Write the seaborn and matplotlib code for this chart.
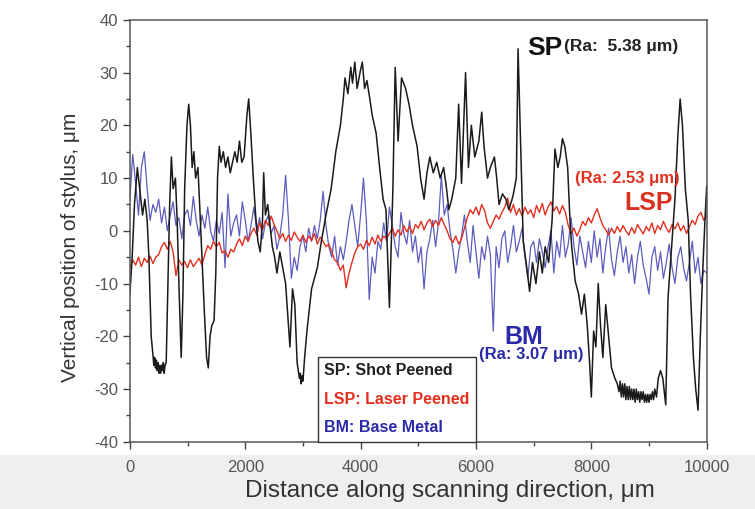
import numpy as np
import pandas as pd
import seaborn as sns
import matplotlib.pyplot as plt
from matplotlib.patches import Rectangle
from matplotlib.ticker import MultipleLocator

sns.set_theme(style='ticks')
plt.rcParams['font.family'] = ['Liberation Sans', 'DejaVu Sans']
plt.rcParams['axes.unicode_minus'] = False

# SP profile (shot peened): (distance, height) breakpoints
sp_pts = [(0, -12), (40, -5), (80, 5), (130, 12), (170, 8), (220, 3), (260, 6), (300, 2),
          (330, -5), (370, -20), (400, -23.5), (415, -25.5), (430, -24), (445, -26),
          (460, -24.5), (475, -26.5), (490, -25), (505, -27), (520, -25.5), (535, -27),
          (550, -25.5), (565, -26.5), (580, -25), (595, -27), (610, -25.5), (630, -25),
          (660, -10), (690, 5), (720, 14), (750, 8), (790, 10), (820, 2), (850, -10),
          (890, -24), (920, -12), (950, 8), (990, 20), (1020, 24), (1050, 20), (1080, 12),
          (1110, 15), (1140, 10), (1180, 12), (1210, 5), (1250, -5), (1290, -15), (1330, -24),
          (1360, -26), (1390, -20), (1420, -18), (1460, -17), (1490, -8), (1520, 10), (1550, 16),
          (1580, 13), (1620, 15), (1660, 12), (1700, 14), (1740, 11), (1780, 13), (1820, 15),
          (1860, 13), (1900, 17), (1940, 13), (1980, 14), (2030, 22), (2060, 25), (2100, 18),
          (2140, 10), (2180, 3), (2220, -2), (2260, -4), (2300, 2), (2320, 11), (2350, 3),
          (2390, 5), (2430, 1), (2470, -3), (2510, -5), (2550, -8), (2600, -4), (2650, -7),
          (2700, -10), (2775, -22), (2820, -11), (2860, -14), (2900, -25), (2940, -28),
          (2955, -27), (2970, -29), (2985, -27.5), (3000, -28.5), (3030, -24), (3070, -19),
          (3110, -15), (3150, -11), (3200, -9), (3250, -7), (3320, -2), (3400, 3), (3490, 8),
          (3570, 15), (3650, 20), (3700, 25), (3730, 29), (3780, 26), (3830, 31), (3860, 28),
          (3900, 32), (3940, 27), (3990, 30), (4030, 32), (4070, 27), (4110, 28.5), (4160, 25),
          (4200, 22), (4270, 18.5), (4330, 12), (4390, 6), (4440, 4), (4500, -14.5), (4560, 8),
          (4600, 31), (4650, 17), (4710, 29), (4780, 27), (4840, 24), (4900, 20), (4980, 16),
          (5040, 10), (5100, 6), (5150, 11), (5200, 14), (5260, 11), (5320, 13), (5380, 10),
          (5440, 12), (5490, 8), (5530, 4), (5580, 6), (5650, 10), (5700, 24), (5750, 9),
          (5820, 30), (5870, 12), (5920, 20), (5980, 14), (6050, 17), (6100, 22.5), (6140, 16),
          (6200, 10), (6250, 12), (6320, 14), (6360, 10), (6400, 5), (6460, 7), (6520, 6),
          (6570, 4), (6640, 6.5), (6700, 10), (6730, 34.5), (6770, 18), (6820, -2), (6870, -6),
          (6930, -11.5), (6980, -6), (7040, -10), (7100, -4), (7150, -8), (7200, -3),
          (7260, -6), (7320, 2), (7370, 15.5), (7420, 12), (7460, 14), (7500, 17.5),
          (7540, 16), (7590, 12), (7630, 2), (7660, -3), (7720, -9.5), (7780, -12),
          (7830, -15.8), (7880, -12), (7930, -18), (7970, -25), (8000, -31.5), (8040, -19),
          (8080, -22), (8120, -10), (8160, -18), (8200, -24), (8250, -14), (8300, -20),
          (8350, -26), (8410, -28), (8450, -29), (8480, -30.5), (8500, -28.5), (8520, -31.5),
          (8540, -29), (8560, -31.5), (8580, -29), (8600, -32), (8620, -29.5), (8640, -32),
          (8660, -29.5), (8680, -32), (8700, -30), (8720, -32), (8740, -30), (8760, -32.5),
          (8780, -30), (8800, -32), (8820, -30.5), (8840, -32.5), (8860, -30.5), (8880, -32),
          (8900, -30.5), (8920, -32.5), (8940, -31), (8960, -32.5), (8980, -31), (9000, -32.5),
          (9020, -31), (9040, -32), (9060, -30.5), (9080, -32), (9100, -30), (9130, -31.5),
          (9160, -28), (9200, -26.5), (9240, -28), (9290, -33), (9330, -12.7), (9380, -5),
          (9450, 6), (9500, 18), (9540, 25), (9580, 20), (9630, 8), (9680, 2), (9720, -12),
          (9770, -24), (9810, -30), (9850, -34), (9890, -20), (9930, -8), (9970, 2),
          (10000, 8.5)]

# LSP profile (laser peened), sampled every 50 um
lsp_y = [-7, -5.5, -6.5, -5, -6.8, -5.2, -6, -4.8, -6.2, -5,
         -4.5, -3, -2.2, -3.5, -2, -4, -8.5, -5.5, -6.5, -5.8,
         -7, -5.5, -6.8, -6, -5.2, -6.5, -4.5, -2.8, -3.5, -2,
         -3, -2.2, -4.2, -3.8, -5, -3.5, -4, -2.5, -1.5, -2.8,
         -1, -2, -0.5, 0.5, -0.8, 1.5, 0.2, 2, 1, 2.8,
         1.2, 0, -1.5, -0.5, -2, -0.8, -1.8, -0.2, -1.2, -2,
         -0.8, -2.2, -1, -1.8, -0.5, -2.5, -1.2, -2, -3, -2.5,
         -4, -5.5, -6, -7.5, -6.5, -10.8, -8, -6, -4.2, -3,
         -2.5, -3.5, -1.8, -2.8, -1.2, -2.5, -0.8, -2, -1, -1.5,
         -0.5, 0.5, -1, 0.2, -0.8, 1, -0.2, 0.8, -0.5, 1.2,
         0.5, 1.8, 0.2, 1.5, 2.2, 0.8, 2, 1, 2.5, 1.2,
         0, -1.5, -2.2, -1, -2.5, -1.5, 0.5, 2.5, 4, 3.2,
         4.5, 3, 5, 3.8, 1.5, 0.5, 1.8, 3, 2.2, 3.5,
         4.5, 6.2, 3.5, 5, 3, 4.2, 2.8, 4.5, 3.2, 4,
         2.5, 4.8, 3.5, 5.2, 3, 4.5, 5.5, 3.8, 4.6, 3.2,
         4.8, 3.5, 1, -0.5, 0.5, -1, 0.2, 1.8, 1, 2.5,
         1.5, 3, 4.2, 2.5, 1, 0.2, -0.8, 0.5, -0.5, 0.8,
         -0.2, 1, 0, -0.8, 0.6, -0.5, 1.2, 0.3, -0.6, 0.8,
         0, 1.5, -0.5, 1, 0.2, 1.8, 0.5, -0.3, 1.2, 0.4,
         1.5, 0, 1, -0.5, 0.8, 2, 1.2, 2.8, 3.5, 2,
         3]

# BM profile (base metal), sampled every 50 um
bm_y = [6, 14.5, 9, 3, 12, 15, 8, 2, 5, 3.5,
        6, 1.5, 4.5, 0, 3, 5.5, 1, 2.5, -1.5, 3,
        4, 1, 6.5, 2, -1, 3, 0.5, 4.5, 0, -2,
        2, -0.5, 3.5, -7, 7, -1, 1.5, 3, -1, 5.5,
        2, -2, 1, 4.5, 0, 2.5, -1.5, 1.5, 3, -0.5,
        1, -3.5, -1, 3, 10.5, 2, -9, -5, -7.5, -3,
        -1, -4, 0.5, -2, 1, -1.5, 2, 7.5, 1, -3,
        -5, -1, -6.5, -3, -5.5, -2, 2, 5, 1, -3,
        3, 10, 2, -13, -5, -8, -2, -3.5, 1.5, -2,
        4.5, 1, -3, -5, 3.5, -0.5, -2.5, 2, -4, -1,
        -6, -3, -11, -4, -1.5, 2, -3, 1.5, 10.5, 3,
        5, 0, -3.5, -8, -4, -1, 3, -2, -6, 1,
        -4, -9, -3, -5.5, -1, -4.5, -19, -3, -7, -1.5,
        0, -6, -3, 1, -4, -2, 0.5, -5, -9, -3,
        -2, -6, -1.5, -4, -7, -3, 0, -8, -2, -5,
        1, -5, -2.5, 2.5, -3, -6.5, -1, -4, -7, -2,
        -6, 0, -5, -1.5, -8, -3, 0.5, -5.5, -8.5, -4,
        -1, -6, -3, -8, -4.5, -10, -5, -2, -6.5, -9,
        -12, -5, -3, -7.5, -4, -9, -6, -2.5, -7, -10,
        -5, -3, -7, -9.5, -6, -2, -8, -5, -10, -7.5,
        -8]

step = 50
grid = np.arange(0, 10001, step)

sp = pd.DataFrame(sp_pts, columns=['x', 'y'])
lsp = pd.DataFrame({'x': grid, 'y': lsp_y})
bm = pd.DataFrame({'x': grid, 'y': bm_y})

fig = plt.figure(figsize=(7.55, 5.09), dpi=100)
band = Rectangle((0, 0), 1, 0.107, transform=fig.transFigure, color='#efefef', zorder=-5)
fig.patches.append(band)
ax = fig.add_axes([0.172, 0.132, 0.764, 0.829])

sns.lineplot(data=bm, x='x', y='y', ax=ax, color='#4040b4', lw=0.9, alpha=0.85, sort=False)
sns.lineplot(data=lsp, x='x', y='y', ax=ax, color='#e2301f', lw=1.0, sort=False)
sns.lineplot(data=sp, x='x', y='y', ax=ax, color='#1a1a1a', lw=1.1, sort=False)

ax.set_xlim(0, 10000)
ax.set_ylim(-40, 40)
ax.xaxis.set_major_locator(MultipleLocator(2000))
ax.xaxis.set_minor_locator(MultipleLocator(1000))
ax.yaxis.set_major_locator(MultipleLocator(10))
ax.yaxis.set_minor_locator(MultipleLocator(5))
ax.tick_params(which='major', direction='out', length=5, width=1, color='#444',
               labelsize=12, labelcolor='#555')
ax.tick_params(axis='x', which='major', pad=8)
ax.tick_params(which='minor', direction='out', length=3, width=1, color='#444')
for s in ax.spines.values():
    s.set_color('#555')
    s.set_linewidth(1.1)

ax.set_xlabel('Distance along scanning direction, μm', fontsize=17.5, color='#333',
              labelpad=4, x=0.555)
ax.set_ylabel('Vertical position of stylus, μm', fontsize=15, color='#333',
              labelpad=10, y=0.46)

ax.text(6890, 34.6, 'SP', fontsize=19, fontweight='bold', color='#111', va='center')
ax.text(7530, 35, '(Ra:  5.38 μm)', fontsize=12.5, fontweight='bold', color='#222', va='center')
ax.text(7720, 10, '(Ra: 2.53 μm)', fontsize=12, fontweight='bold', color='#e2301f', va='center')
ax.text(8580, 5.2, 'LSP', fontsize=18, fontweight='bold', color='#d9301f', va='center')
ax.text(6500, -20.2, 'BM', fontsize=18, fontweight='bold', color='#2a2aa8', va='center')
ax.text(6060, -23.5, '(Ra: 3.07 μm)', fontsize=12, fontweight='bold', color='#2a2aa8', va='center')

handles = [plt.Line2D([], [], color='none') for _ in range(3)]
leg = ax.legend(handles, ['SP: Shot Peened', 'LSP: Laser Peened', 'BM: Base Metal'],
                loc='lower left', bbox_to_anchor=(0.326, 0.0), borderaxespad=0,
                handlelength=0, handletextpad=0, labelspacing=0.85, fancybox=False,
                framealpha=1, edgecolor='#333', borderpad=0.4,
                prop={'size': 11.5, 'weight': 'bold'},
                labelcolor=['#222', '#e2301f', '#2a2aa8'])
leg.get_frame().set_linewidth(1.0)

fig.savefig('out.png', dpi=100)
